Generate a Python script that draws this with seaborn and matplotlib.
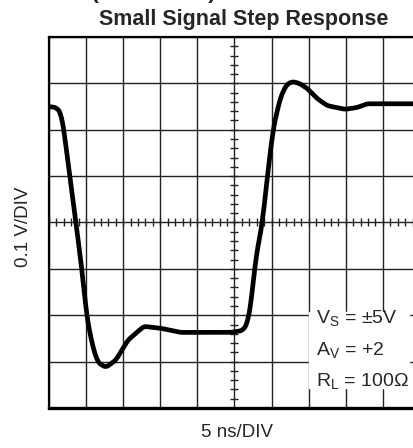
import numpy as np
import pandas as pd
import matplotlib
matplotlib.use("Agg")
import matplotlib.pyplot as plt
import seaborn as sns

# step response trace, time in ns from left edge, output in V about centre line
time_ns = [0.0, 0.94, 1.61, 2.02, 2.82, 3.63, 4.44, 5.11, 5.91, 6.59, 7.66, 9.0,
           10.62, 12.77, 15.05, 17.74, 20.43, 24.46, 26.08, 26.75, 27.28, 27.82,
           28.76, 29.57, 30.24, 31.18, 31.99, 32.8, 33.74, 34.81, 36.16, 37.5,
           39.92, 41.53, 42.88, 44.62, 50.0]
volts = [0.25, 0.248, 0.237, 0.198, 0.097, 0.0, -0.103, -0.205, -0.269, -0.302,
         -0.3125, -0.297, -0.254, -0.224, -0.228, -0.237, -0.237, -0.237, -0.233,
         -0.218, -0.168, -0.082, 0.0, 0.119, 0.205, 0.269, 0.297, 0.304, 0.300,
         0.289, 0.267, 0.252, 0.244, 0.248, 0.256, 0.256, 0.256]

ns_div = 5
v_div = 0.1
legend_lines = [r"V$_\mathregular{S}$ = ±5V", r"A$_\mathregular{V}$ = +2",
                r"R$_\mathregular{L}$ = 100Ω"]

sns.set_style("white")
plt.rcParams['font.family'] = ['Liberation Sans', 'DejaVu Sans']
plt.rcParams['mathtext.fontset'] = 'custom'
plt.rcParams['mathtext.rm'] = 'Liberation Sans'

# smooth the hand-read points a little for a scope-like trace
t_fine = np.linspace(time_ns[0], time_ns[-1], 600)
v_fine = np.interp(t_fine, time_ns, volts)
k = np.ones(9) / 9
v_fine = np.convolve(np.pad(v_fine, 4, mode='edge'), k, mode='valid')
df = pd.DataFrame({'t': t_fine, 'v': v_fine})

W, H = 414, 448
fig = plt.figure(figsize=(W / 100, H / 100), dpi=100)
ax = fig.add_axes([49 / W, 1 - 408 / H, 371 / W, 371 / H])

sns.lineplot(data=df, x='t', y='v', ax=ax, color='black', lw=3.4, zorder=5)

ax.set_xlim(0, 10 * ns_div)
ax.set_ylim(-4 * v_div, 4 * v_div)
ax.set_xticks(np.arange(0, 10 * ns_div + 1, ns_div))
ax.set_yticks(np.arange(-4, 5) * v_div)
ax.grid(True, color='#222222', lw=1.0)
ax.tick_params(length=0, labelbottom=False, labelleft=False)
ax.set_xlabel('')
ax.set_ylabel('')
for s in ['top', 'left', 'right']:
    ax.spines[s].set_linewidth(1.6)
    ax.spines[s].set_color('black')
ax.spines['bottom'].set_linewidth(2.4)
ax.spines['bottom'].set_color('black')

# minor graticule ticks on the centre lines
xm = np.arange(0, 10 * ns_div, ns_div / 5)
ym = np.arange(-4 * v_div, 4 * v_div, v_div / 5)
ax.plot(xm, np.zeros_like(xm), ls='none', marker='|', ms=6, mew=1.0, color='#222222')
ax.plot(np.full_like(ym, 5 * ns_div), ym, ls='none', marker='_', ms=6, mew=1.0, color='#222222')

# conditions box
fig.patches.append(plt.Rectangle((309 / W, 1 - 388 / H), 100 / W, 76 / H,
                                 transform=fig.transFigure, color='white', zorder=3))
for i, s in enumerate(legend_lines):
    fig.text(316 / W, 1 - (319 + i * 31.5) / H, s, fontsize=14, ha='left', va='center', zorder=4)

fig.text(244 / W, 1 - 20 / H, 'Small Signal Step Response', fontsize=15.5,
         fontweight='bold', ha='center', va='center')
# page header, mostly cut off by the top edge as in the scan
fig.text(216 / W, 1 + 2 / H, 'Typical Performance Characteristics (Continued)',
         fontsize=16, fontweight='bold', ha='right', va='baseline')
fig.text(237 / W, 1 - 432 / H, '5 ns/DIV', fontsize=13.5, ha='center', va='center')
fig.text(24 / W, 1 - 227 / H, '0.1 V/DIV', fontsize=13.5, ha='center', va='center',
         rotation=90)

fig.savefig('out.png', dpi=100)
